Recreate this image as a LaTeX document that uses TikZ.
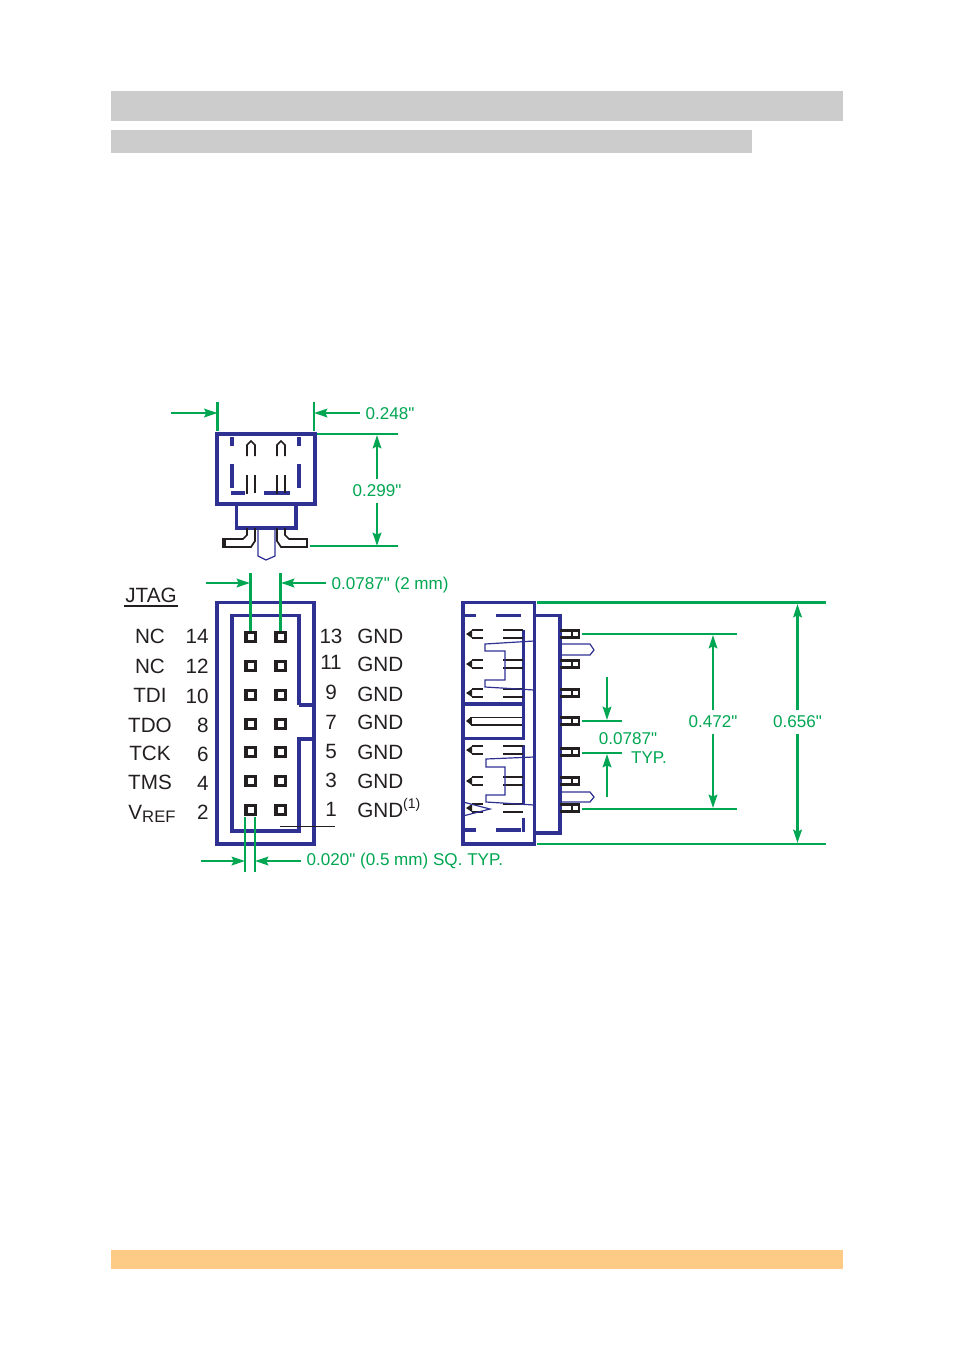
\documentclass[tikz,border=0pt]{standalone}
\usepackage{fontspec}
\setmainfont{Liberation Sans}
\newfontfamily\dimfont{Liberation Sans}
\usetikzlibrary{arrows.meta}
\definecolor{jtagblue}{HTML}{2E3192}
\definecolor{dimgreen}{HTML}{00A651}
\definecolor{barorange}{HTML}{FDCB85}
\definecolor{inkblack}{HTML}{231F20}
\tikzset{
    housing/.style = {draw = jtagblue, line width = 2.4pt},
    thinblue/.style = {draw = jtagblue, line width = 0.9pt},
    pinline/.style = {draw = inkblack, line width = 1.3pt},
    dimline/.style = {draw = dimgreen, line width = 1.6pt},
    dimarrow/.style = {dimline, -{Stealth[length = 10pt, width = 6.5pt, inset = 1.5pt]}},
    dimlabel/.style = {text = dimgreen, font = \dimfont\fontsize{12.8}{14}\selectfont, inner sep = 4pt},
    pinlabel/.style = {text = inkblack, font = \fontsize{15.5}{17}\selectfont, inner sep = 0pt, anchor = base},
    pinsquare/.style = {draw = inkblack, fill = white, line width = 2.5pt, minimum size = 7pt, inner sep = 0pt}
}
\begin{document}
\begin{tikzpicture}[x = 0.75pt, y = -0.75pt]
    \useasboundingbox (0,0) rectangle (954,1350);
    % page bars
    \fill [black!20] (111,91) rectangle (843,121);
    \fill [black!20] (111,130) rectangle (752,153);
    \fill [barorange] (111,1250) rectangle (843,1269);

    % top view
    \draw [housing] (217,434) rectangle (315,504);
    \draw [housing] (236.5,504) rectangle (296,528);
    \draw [housing] (232,437) -- (232,446) (232,464) -- (232,488)
        (231,493) -- (245,493) (264,493) -- (290,493)
        (299,437) -- (299,446) (299,464) -- (299,488);
    \foreach \xpos in {247, 277} {
        \draw [pinline] (\xpos,456) -- (\xpos,445) -- (\xpos+4,441) -- (\xpos+8,445) -- (\xpos+8,456);
        \draw [pinline] (\xpos,475) -- (\xpos,494) (\xpos+8,475) -- (\xpos+8,493);
    }
    \draw [pinline] (247,528) -- (247,535) -- (243,539) -- (224,539) -- (224,547) -- (251,547) -- (255,541) -- (255,528);
    \draw [pinline] (285,528) -- (285,535) -- (289,539) -- (307,539) -- (307,547) -- (281,547) -- (277,541) -- (277,528);
    \draw [pinline, line width = 2.4pt] (224,538) -- (224,548);
    \draw [thinblue] (258,528) -- (258,556) -- (266,560) -- (275,556) -- (275,528);

    % top view dimensions
    \node (topwidth) [dimlabel, anchor = west] at (360,414) {0.248"};
    \node (topheight) [dimlabel] at (377,491) {0.299"};
    \coordinate (topleft) at (217.5,413);
    \coordinate (topright) at (314,413);
    \coordinate (leftstart) at (171,413);
    \coordinate (heighttop) at (377,435);
    \coordinate (heightbottom) at (377,546);
    \draw [dimline] (217.5,402) -- (217.5,431) (314,402) -- (314,431);
    \draw [dimline] (317,434) -- (398,434) (310,546) -- (398,546);
    \draw [dimarrow] (leftstart) -- (topleft);
    \draw [dimarrow] (topwidth.west |- topright) -- (topright);
    \draw [dimarrow] (topheight) -- (heighttop);
    \draw [dimarrow] (topheight) -- (heightbottom);

    % front view
    \draw [housing] (217,602.5) rectangle (314,844);
    \draw [housing] (299,705) -- (299,615.5) -- (232,615.5) -- (232,831) -- (299,831) -- (299,739) -- (314,739);
    \draw [housing] (299,705) -- (314,705);
    \foreach \ypos in {637, 666, 695, 724, 752, 781, 810} {
        \node (pinl\ypos) [pinsquare] at (250.5,\ypos) {};
        \node (pinr\ypos) [pinsquare] at (280.5,\ypos) {};
    }
    \draw [inkblack, line width = 0.6pt] (280,826) -- (335,826);

    % pin labels
    \node (jtag) [pinlabel] at (151,602) {JTAG};
    \draw [inkblack, line width = 0.8pt] (124,606) -- (178,606);
    \foreach \name/\ypos in {NC/643, NC/673, TDI/702, TDO/732, TCK/760, TMS/789}
        \node [pinlabel] at (150,\ypos) {\name};
    \node (vref) [pinlabel] at (152,819) {V\raisebox{-2.5pt}{\fontsize{12.5}{14}\selectfont REF}};
    \foreach \num/\ypos in {14/643, 12/673, 10/703, 8/732, 6/761, 4/790, 2/819}
        \node [pinlabel, anchor = base east] at (209,\ypos) {\num};
    \foreach \num/\ypos in {13/643, 11/669, 9/699, 7/729, 5/758, 3/787, 1/816}
        \node [pinlabel] at (331,\ypos) {\num};
    \foreach \ypos in {643, 671, 701, 729, 759, 788}
        \node [pinlabel, anchor = base west] at (357,\ypos) {GND};
    \node (gndone) [pinlabel, anchor = base west] at (357,817) {GND\raisebox{6.5pt}{\fontsize{10.5}{12}\selectfont(1)}};

    % front view dimensions
    \node (pitch) [dimlabel, anchor = west] at (326,585) {0.0787" (2 mm)};
    \node (pinsize) [dimlabel, anchor = west] at (301,861) {0.020" (0.5 mm) SQ. TYP.};
    \coordinate (pitchstart) at (206,583);
    \coordinate (pitchleft) at (250,583);
    \coordinate (pitchright) at (281,583);
    \coordinate (sizestart) at (201,861);
    \coordinate (sizeleft) at (245,861);
    \coordinate (sizeright) at (255,861);
    \draw [dimline] (250.5,573) -- (pinl637.north) (280.5,573) -- (pinr637.north);
    \draw [dimline] (245,817) -- (245,872) (255,817) -- (255,872);
    \draw [dimarrow] (pitchstart) -- (pitchleft);
    \draw [dimarrow] (pitch.west |- pitchright) -- (pitchright);
    \draw [dimarrow] (sizestart) -- (sizeleft);
    \draw [dimarrow] (pinsize.west |- sizeright) -- (sizeright);

    % side view
    \draw [housing] (463,602.5) rectangle (534.5,844);
    \draw [housing] (534.5,615.5) -- (560,615.5) -- (560,833) -- (534.5,833);
    \draw [housing] (463,615.5) -- (476,615.5) (496,615.5) -- (521,615.5)
        (463,830) -- (476,830) (496,830) -- (521,830)
        (463,704) -- (524,704) (523.5,630) -- (523.5,704) (463,738.5) -- (524,738.5) (523.5,704) -- (523.5,740)
        (523.5,745) -- (523.5,805) (523.5,818) -- (523.5,832);
    \foreach \ypos in {634, 664, 693, 721, 752, 781, 808} {
        \draw [pinline, line width = 1.8pt] (560,\ypos-3.5) -- (579,\ypos-3.5) -- (579,\ypos+3.5) -- (560,\ypos+3.5) (572,\ypos-3.5) -- (572,\ypos+3.5);
    }
    \foreach \ypos in {634, 664, 693, 750, 781, 808} {
        \fill [inkblack] (466,\ypos) -- (472,\ypos-4) -- (472,\ypos+4) -- cycle;
        \draw [pinline, line width = 0.9pt] (472,\ypos-4) -- (483,\ypos-4) (472,\ypos+4) -- (483,\ypos+4)
            (503,\ypos-4) -- (523,\ypos-4) (503,\ypos+4) -- (523,\ypos+4);
    }
    \foreach \ypos in {664, 781}
        \draw [pinline, line width = 1.6pt] (504,\ypos-4) -- (523,\ypos-4) (504,\ypos+4) -- (523,\ypos+4);
    \fill [inkblack] (466,721) -- (471,717) -- (471,725) -- cycle;
    \draw [pinline] (471,717.5) -- (522,717.5) (471,725) -- (522,725) (471,717) -- (471,725);
    \draw [thinblue] (534,641) -- (485,644) -- (485,651) -- (505,651) -- (505,680) -- (485,680) -- (485,687) -- (534,690);
    \draw [thinblue] (534,757) -- (486,759) -- (486,767) -- (505,767) -- (505,795) -- (486,795) -- (486,802) -- (534,805);
    \draw [thinblue] (463,802) -- (490,809) -- (463,816);
    \draw [thinblue] (560,644) -- (590,644) -- (594,650) -- (590,655) -- (560,655);
    \draw [thinblue] (560,792) -- (590,792) -- (594,797) -- (590,802) -- (560,802);

    % side view dimensions
    \node (totalheight) [dimlabel] at (797.5,722) {0.656"};
    \node (pinspan) [dimlabel] at (713,722) {0.472"};
    \node (typpitch) [dimlabel] at (628,739) {0.0787"};
    \node (typword) [dimlabel] at (649,758) {TYP.};
    \coordinate (totaltop) at (797.5,604);
    \coordinate (totalbottom) at (797.5,843);
    \coordinate (spantop) at (713,635);
    \coordinate (spanbottom) at (713,808);
    \coordinate (pitchtopstart) at (607,677);
    \coordinate (pitchtopend) at (607,720);
    \coordinate (pitchbottomstart) at (607,797);
    \coordinate (pitchbottomend) at (607,754);
    \draw [dimline] (537,602.5) -- (826,602.5) (537,844) -- (826,844);
    \draw [dimline] (582,634) -- (737,634) (582,809) -- (737,809);
    \draw [dimline] (582,721) -- (622,721) (582,753) -- (622,753);
    \draw [dimarrow] (totalheight) -- (totaltop);
    \draw [dimarrow] (totalheight) -- (totalbottom);
    \draw [dimarrow] (pinspan) -- (spantop);
    \draw [dimarrow] (pinspan) -- (spanbottom);
    \draw [dimarrow] (pitchtopstart) -- (pitchtopend);
    \draw [dimarrow] (pitchbottomstart) -- (pitchbottomend);
\end{tikzpicture}
\end{document}
